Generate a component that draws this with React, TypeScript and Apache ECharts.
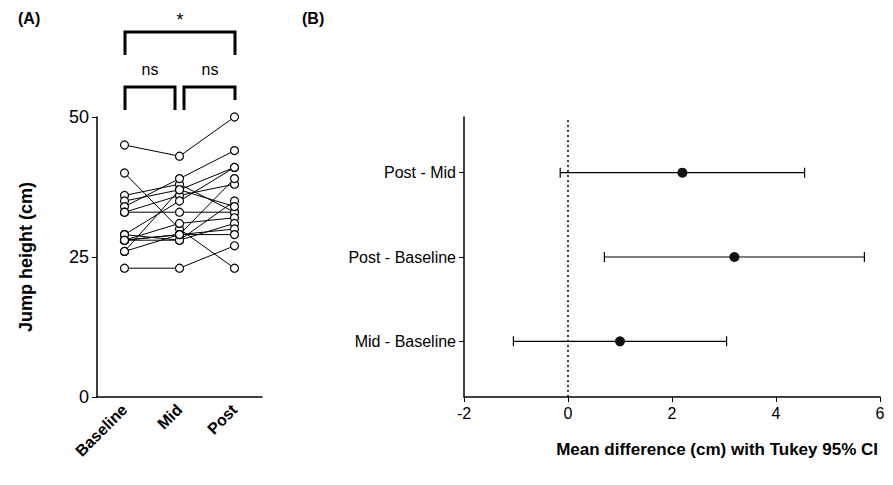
import { useEffect, useRef } from 'react'
import * as echarts from 'echarts'

const timepoints = ['Baseline', 'Mid', 'Post']
const subjects: number[][] = [
  [45, 43, 50],
  [40, 30, 23],
  [36, 38, 33],
  [35, 37, 41],
  [34, 39, 44],
  [33, 36, 38],
  [33, 33, 33],
  [29, 35, 41],
  [28, 29, 39],
  [28, 28, 35],
  [28, 31, 32],
  [29, 28, 31],
  [26, 37, 34],
  [26, 29, 30],
  [28, 29, 29],
  [23, 23, 27],
]
const comparisons = ['Mid - Baseline', 'Post - Baseline', 'Post - Mid']
const meanDiff = [1.0, 3.2, 2.2]
const ciLow = [-1.05, 0.7, -0.15]
const ciHigh = [3.05, 5.7, 4.55]

const font = 'Liberation Sans, Arial, sans-serif'

export default function App() {
  const ref = useRef<HTMLDivElement>(null)
  useEffect(() => {
    if (!ref.current) return
    const chart = echarts.init(ref.current, null, { renderer: 'svg' })
    const bracket = (pts: number[][]) => ({
      type: 'polyline',
      shape: { points: pts },
      style: { stroke: '#000', lineWidth: 3, fill: 'none' },
    })
    chart.setOption({
      animation: false,
      textStyle: { fontFamily: font },
      grid: [
        { left: 97, right: 893 - 262, top: 117, bottom: 485 - 397 },
        { left: 464, right: 13, top: 117, bottom: 485 - 397 },
      ],
      xAxis: [
        {
          gridIndex: 0, type: 'category', data: timepoints, boundaryGap: true,
          axisLine: { lineStyle: { color: '#000', width: 1.5 } },
          axisTick: { lineStyle: { color: '#000' }, alignWithLabel: true },
          axisLabel: { rotate: 45, color: '#000', fontSize: 16, fontWeight: 'bold', margin: 10 },
        },
        {
          gridIndex: 1, type: 'value', min: -2, max: 6, interval: 2,
          splitLine: { show: false },
          axisLine: { lineStyle: { color: '#000', width: 1.5 } },
          axisTick: { lineStyle: { color: '#000' } },
          axisLabel: { color: '#000', fontSize: 16 },
        },
      ],
      yAxis: [
        {
          gridIndex: 0, type: 'value', min: 0, max: 50, interval: 25,
          name: 'Jump height (cm)', nameLocation: 'middle', nameGap: 62,
          nameTextStyle: { fontSize: 18, fontWeight: 'bold', color: '#000' },
          splitLine: { show: false },
          axisLine: { show: true, lineStyle: { color: '#000', width: 1.5 } },
          axisTick: { show: true, lineStyle: { color: '#000' } },
          axisLabel: { color: '#000', fontSize: 18 },
        },
        {
          gridIndex: 1, type: 'value', min: 0.34, max: 3.66,
          splitLine: { show: false },
          axisLine: { show: true, onZero: false, lineStyle: { color: '#000', width: 1.5 } },
          axisTick: { show: true, customValues: [1, 2, 3], lineStyle: { color: '#000' } },
          axisLabel: {
            color: '#000', fontSize: 16, customValues: [1, 2, 3],
            formatter: (v: number) => comparisons[Math.round(v) - 1] ?? '',
          },
        },
      ],
      series: [
        ...subjects.map((s) => ({
          type: 'line', xAxisIndex: 0, yAxisIndex: 0, data: s,
          symbol: 'circle', symbolSize: 8,
          itemStyle: { color: '#fff', borderColor: '#000', borderWidth: 1.2 },
          lineStyle: { color: '#000', width: 1 },
        })),
        {
          type: 'custom', xAxisIndex: 1, yAxisIndex: 1,
          data: comparisons.map((_, i) => [ciLow[i], ciHigh[i], i + 1]),
          renderItem: (_p: any, api: any) => {
            const a = api.coord([api.value(0), api.value(2)])
            const b = api.coord([api.value(1), api.value(2)])
            const st = { stroke: '#000', lineWidth: 1.2 }
            return {
              type: 'group',
              children: [
                { type: 'line', shape: { x1: a[0], y1: a[1], x2: b[0], y2: b[1] }, style: st },
                { type: 'line', shape: { x1: a[0], y1: a[1] - 5, x2: a[0], y2: a[1] + 5 }, style: st },
                { type: 'line', shape: { x1: b[0], y1: b[1] - 5, x2: b[0], y2: b[1] + 5 }, style: st },
              ],
            }
          },
        },
        {
          type: 'scatter', xAxisIndex: 1, yAxisIndex: 1,
          data: comparisons.map((_, i) => [meanDiff[i], i + 1]),
          symbolSize: 10, itemStyle: { color: '#111', opacity: 1 },
          z: 5,
          markLine: {
            silent: true, symbol: 'none', label: { show: false },
            lineStyle: { color: '#000', type: [2, 3], width: 1.5 },
            data: [{ xAxis: 0 }],
          },
        },
      ],
      graphic: [
        { type: 'text', left: 18, top: 10, style: { text: '(A)', font: `bold 16px ${font}`, fill: '#000' } },
        { type: 'text', left: 302, top: 10, style: { text: '(B)', font: `bold 16px ${font}`, fill: '#000' } },
        { type: 'text', x: 878, y: 449, style: { text: 'Mean difference (cm) with Tukey 95% CI', font: `bold 17px ${font}`, fill: '#000', align: 'right', verticalAlign: 'middle' } },
        bracket([[125, 55], [125, 32], [235, 32], [235, 55]]),
        { type: 'text', x: 180, y: 20, style: { text: '*', font: `18px ${font}`, fill: '#000', align: 'center', verticalAlign: 'middle' } },
        bracket([[125, 110], [125, 87], [175, 87], [175, 110]]),
        bracket([[184, 110], [184, 87], [235, 87], [235, 100]]),
        { type: 'text', x: 150, y: 69, style: { text: 'ns', font: `16px ${font}`, fill: '#000', align: 'center', verticalAlign: 'middle' } },
        { type: 'text', x: 210, y: 69, style: { text: 'ns', font: `16px ${font}`, fill: '#000', align: 'center', verticalAlign: 'middle' } },
      ],
    })
    return () => chart.dispose()
  }, [])
  return <div ref={ref} style={{ width: 893, height: 485, margin: -8 }} />
}
